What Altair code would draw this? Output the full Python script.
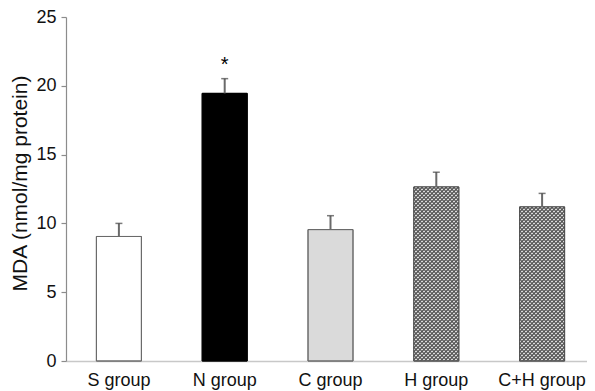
import altair as alt
import pandas as pd

# ---- data ----
groups = ["S group", "N group", "C group", "H group", "C+H group"]
means = [9.05, 19.45, 9.55, 12.65, 11.2]
errors = [0.95, 1.07, 1.01, 1.07, 0.98]
signif = ["", "*", "", "", ""]

# ---- styling ----
fills = ["#ffffff", "#000000", "#dadada", "#d8d8d8", "#d8d8d8"]
strokes = ["#6a6a6a", "#000000", "#6a6a6a", "#505050", "#505050"]
hatched = [False, False, False, True, True]

PLOT_W, PLOT_H = 521, 344
BAR_W = 45
Y_MAX = 25

df = pd.DataFrame({
    "group": groups,
    "mean": means,
    "err": errors,
    "sig": signif,
    "hatch": hatched,
})
df["top"] = df["mean"] + df["err"]


def stripes(bar_h, flip, dark, light, period=4.0):
    # diagonal stripes at 45 degrees in pixel space, expressed in bbox units
    L = BAR_W + bar_h
    k = L / (BAR_W ** 2 + bar_h ** 2)
    dx, dy = BAR_W * k, bar_h * k
    if flip:
        x1, y1, x2, y2 = 1, 0, 1 - dx, dy
    else:
        x1, y1, x2, y2 = 0, 0, dx, dy
    step = period / L
    stops = []
    a = 0.0
    while a < 1.0:
        b = min(a + step / 2, 1.0)
        c = min(a + step, 1.0)
        stops += [
            {"offset": a, "color": dark},
            {"offset": b, "color": dark},
            {"offset": b, "color": light},
            {"offset": c, "color": light},
        ]
        a += step
    return {"gradient": "linear", "x1": x1, "y1": y1, "x2": x2, "y2": y2, "stops": stops}


x = alt.X(
    "group:N",
    sort=groups,
    scale=alt.Scale(range=[0, 529], paddingInner=0, paddingOuter=0),
    axis=alt.Axis(
        title=None, labelAngle=0, ticks=False, tickSize=0, labelPadding=10,
        domainColor="#c8c8c8", domainWidth=1.5, labelFontSize=18,
    ),
)
y = alt.Y(
    "mean:Q",
    scale=alt.Scale(domain=[0, Y_MAX], nice=False),
    axis=alt.Axis(
        title="MDA (nmol/mg protein)", values=[0, 5, 10, 15, 20, 25],
        tickSize=5, labelPadding=5, titlePadding=5, titleFontSize=21,
        titleY=166,
        titleFontWeight="normal", labelFontSize=18, grid=False,
        domainColor="#8c8c8c", tickColor="#8c8c8c", domainWidth=1.2, tickWidth=1.2,
    ),
)

base = alt.Chart(df)

bars = base.mark_bar(size=BAR_W, strokeWidth=1).encode(
    x=x, y=y,
    fill=alt.Color("group:N", scale=alt.Scale(domain=groups, range=fills), legend=None),
    stroke=alt.Stroke("group:N", scale=alt.Scale(domain=groups, range=strokes), legend=None),
)

layers = [bars]
for g, m, h in zip(groups, means, hatched):
    if not h:
        continue
    bh = m / Y_MAX * PLOT_H
    sel = base.transform_filter(alt.datum.group == g)
    layers.append(sel.mark_bar(size=BAR_W, fill=stripes(bh, False, "#6a6a6a", "#dadada")).encode(x=x, y=y))
    layers.append(sel.mark_bar(size=BAR_W, fill=stripes(bh, True, "rgba(80,80,80,0.7)", "rgba(255,255,255,0)")).encode(x=x, y=y))

outline = base.mark_bar(size=BAR_W, fillOpacity=0, strokeWidth=1).encode(
    x=x, y=y,
    stroke=alt.Stroke("group:N", scale=alt.Scale(domain=groups, range=strokes), legend=None),
)

stem = base.mark_rule(color="#6a6a6a", strokeWidth=2).encode(
    x=x, y="mean:Q", y2="top:Q"
)
cap = base.mark_tick(color="#444444", size=7, thickness=1.5).encode(
    x=x, y="top:Q"
)
star = base.mark_text(fontSize=20, baseline="middle", dy=-14, color="#000000").encode(
    x=x, y="top:Q", text="sig:N"
)

layers += [outline, stem, cap, star]

chart = alt.layer(*layers).properties(
    width=PLOT_W,
    height=PLOT_H,
    autosize=alt.AutoSizeParams(type="none"),
    padding={"left": 58, "top": 9, "right": 0, "bottom": 30},
).configure(
    font="Liberation Sans",
).configure_axis(
    labelColor="#111111", titleColor="#111111", labelFont="Liberation Sans",
    titleFont="Liberation Sans",
).configure_view(stroke=None)

chart.save("out.html", embed_options={"renderer": "svg", "actions": False})
